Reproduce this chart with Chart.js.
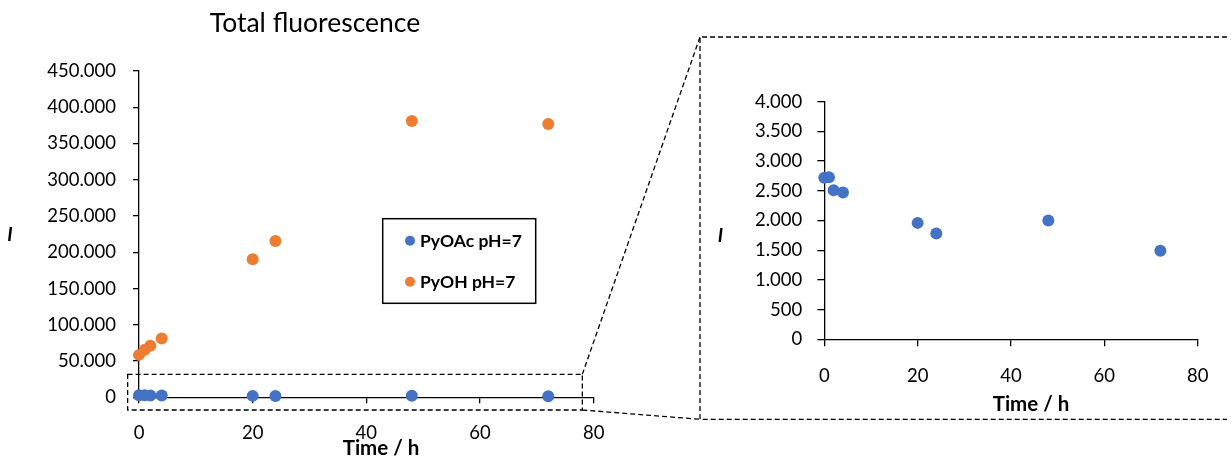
<!DOCTYPE html>
<html>
<head>
<meta charset="utf-8">
<script src="https://cdn.jsdelivr.net/npm/chart.js@4.4.1/dist/chart.umd.min.js"></script>
<style>
html,body{margin:0;padding:0;background:#fff;}
#wrap{position:relative;width:1231px;height:459px;overflow:hidden;}
canvas{position:absolute;left:0;top:0;}
</style>
</head>
<body>
<div id="wrap">
<canvas id="main" width="1231" height="459"></canvas>
<canvas id="inset" width="1231" height="459"></canvas>
</div>
<script>
// ---- data ----
const times = [0, 1, 2, 4, 20, 24, 48, 72];
const pyOAc = [2720, 2730, 2510, 2470, 1960, 1780, 2000, 1490];
const pyOH = [58500, 65500, 71000, 81000, 190500, 215400, 381000, 376900];
const seriesNames = ['PyOAc pH=7', 'PyOH pH=7'];
const xTicks = [0, 20, 40, 60, 80];
const mainYTicks = [0, 50000, 100000, 150000, 200000, 250000, 300000, 350000, 400000, 450000];
const insetYTicks = [0, 500, 1000, 1500, 2000, 2500, 3000, 3500, 4000];
const titleText = 'Total fluorescence';
const xTitle = 'Time / h';
const yTitle = 'I';

// ---- styles ----
const BLUE = '#4472C4';
const ORANGE = '#ED7D31';
const FONT = 'Lato, "Open Sans", sans-serif';

const fmt = v => String(v).replace(/\B(?=(\d{3})+(?!\d))/g, '.');
const pts = (xs, ys) => xs.map((t, i) => ({x: t, y: ys[i]}));

function xScale(ticksArr, padding) {
  return {
    type: 'linear', min: ticksArr[0], max: ticksArr[ticksArr.length - 1],
    afterBuildTicks: s => { s.ticks = ticksArr.map(v => ({value: v})); },
    grid: {display: true, drawOnChartArea: false, drawTicks: true, tickLength: padding.tl, color: '#000', lineWidth: 1.3},
    border: {display: true, color: '#000', width: 1.3},
    ticks: {color: '#000', font: {family: FONT, size: 18.5}, padding: padding.p, maxRotation: 0, autoSkip: false,
      callback: v => fmt(v)}
  };
}
function yScale(ticksArr, padding) {
  return {
    type: 'linear', min: ticksArr[0], max: ticksArr[ticksArr.length - 1],
    afterBuildTicks: s => { s.ticks = ticksArr.map(v => ({value: v})); },
    grid: {display: true, drawOnChartArea: false, drawTicks: true, tickLength: padding.tl, color: '#000', lineWidth: 1.3},
    border: {display: true, color: '#000', width: 1.3},
    ticks: {color: '#000', font: {family: FONT, size: 18.5}, padding: padding.p, autoSkip: false,
      callback: v => fmt(v)}
  };
}

// geometry of the decoration
const insetBox = {left: 700, top: 37, bottom: 419.3, right: 1227};
const zoomRect = {x0: -2, x1: 78, y0: -17500, y1: 31700};

function dashed(ctx) { ctx.setLineDash([5, 3]); ctx.lineWidth = 1.3; ctx.strokeStyle = '#000'; }

const mainDecor = {
  id: 'mainDecor',
  afterDraw(chart) {
    const {ctx} = chart;
    const x = chart.scales.x, y = chart.scales.y;
    ctx.save();
    ctx.fillStyle = '#000';
    // title
    ctx.font = '26.5px ' + FONT; ctx.textAlign = 'center'; ctx.textBaseline = 'alphabetic';
    ctx.fillText(titleText, 315, 32.3);
    // axis titles
    ctx.font = 'italic bold 19px ' + FONT;
    ctx.fillText(yTitle, 10, 240.7);
    ctx.font = 'bold 20.5px ' + FONT;
    ctx.fillText(xTitle, 381, 455);
    // zoom rectangle
    const L = x.getPixelForValue(zoomRect.x0), R = x.getPixelForValue(zoomRect.x1);
    const T = y.getPixelForValue(zoomRect.y1), B = y.getPixelForValue(zoomRect.y0);
    dashed(ctx);
    ctx.beginPath();
    ctx.rect(L, T, R - L, B - T);
    ctx.moveTo(R, T); ctx.lineTo(insetBox.left, insetBox.top);
    ctx.moveTo(R, B); ctx.lineTo(insetBox.left, insetBox.bottom);
    ctx.stroke();
    // legend
    ctx.setLineDash([]);
    ctx.lineWidth = 1.5; ctx.strokeStyle = '#000';
    ctx.strokeRect(382.7, 218.7, 153, 84.6);
    ctx.font = 'bold 17.5px ' + FONT; ctx.textAlign = 'left'; ctx.textBaseline = 'middle';
    chart.data.datasets.forEach((ds, i) => {
      const cy = 240.7 + i * 41;
      ctx.fillStyle = ds.backgroundColor;
      ctx.beginPath(); ctx.arc(410, cy, 5, 0, Math.PI * 2); ctx.fill();
      ctx.fillStyle = '#000';
      ctx.fillText(ds.label, 420, cy + 1);
    });
    ctx.restore();
  }
};

const insetDecor = {
  id: 'insetDecor',
  afterDraw(chart) {
    const {ctx} = chart;
    ctx.save();
    dashed(ctx);
    ctx.beginPath();
    ctx.moveTo(insetBox.right, insetBox.top);
    ctx.lineTo(insetBox.left, insetBox.top);
    ctx.lineTo(insetBox.left, insetBox.bottom);
    ctx.lineTo(insetBox.right, insetBox.bottom);
    ctx.stroke();
    ctx.setLineDash([]);
    ctx.fillStyle = '#000';
    ctx.textAlign = 'center'; ctx.textBaseline = 'alphabetic';
    ctx.font = 'italic bold 19px ' + FONT;
    ctx.fillText(yTitle, 720.5, 241.7);
    ctx.font = 'bold 20.5px ' + FONT;
    ctx.fillText(xTitle, 1031, 410.7);
    ctx.restore();
  }
};

Chart.defaults.font.family = FONT;

new Chart(document.getElementById('main'), {
  type: 'scatter',
  data: {
    datasets: [
      {label: seriesNames[0], data: pts(times, pyOAc), backgroundColor: BLUE, borderWidth: 0, pointRadius: 6, clip: false},
      {label: seriesNames[1], data: pts(times, pyOH), backgroundColor: ORANGE, borderWidth: 0, pointRadius: 6, clip: false}
    ]
  },
  options: {
    responsive: false, animation: false, events: [],
    layout: {padding: {left: 0, top: 71, right: 1231 - 593.7, bottom: 0}},
    plugins: {legend: {display: false}, title: {display: false}, tooltip: {enabled: false}},
    scales: {
      x: Object.assign(xScale(xTicks, {tl: 6, p: 19}), {afterFit: s => { s.height = 459 - 397.3; }}),
      y: Object.assign(yScale(mainYTicks, {tl: 6, p: 17}), {afterFit: s => { s.width = 139; }})
    }
  },
  plugins: [mainDecor]
});

new Chart(document.getElementById('inset'), {
  type: 'scatter',
  data: {
    datasets: [
      {label: seriesNames[0], data: pts(times, pyOAc), backgroundColor: BLUE, borderWidth: 0, pointRadius: 6, clip: false}
    ]
  },
  options: {
    responsive: false, animation: false, events: [],
    layout: {padding: {left: 0, top: 101.7, right: 1231 - 1197.7, bottom: 0}},
    plugins: {legend: {display: false}, title: {display: false}, tooltip: {enabled: false}},
    scales: {
      x: Object.assign(xScale(xTicks, {tl: 7, p: 18.5}), {afterFit: s => { s.height = 459 - 339.3; }}),
      y: Object.assign(yScale(insetYTicks, {tl: 7, p: 15}), {afterFit: s => { s.width = 824.3; }})
    }
  },
  plugins: [insetDecor]
});
</script>
</body>
</html>
